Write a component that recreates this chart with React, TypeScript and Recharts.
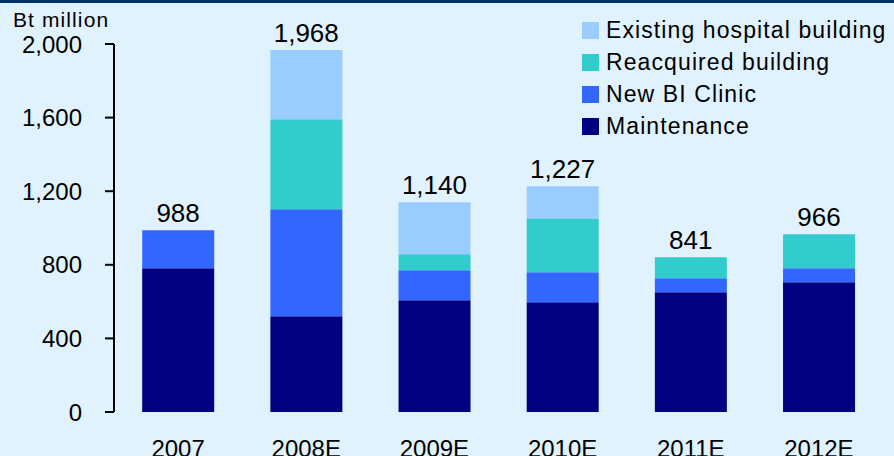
import React from 'react';
import { ComposedChart, Bar, Line, XAxis, YAxis, Legend, LabelList } from 'recharts';

const categories = ['2007', '2008E', '2009E', '2010E', '2011E', '2012E'];
const maintenance = [781, 520, 607, 596, 651, 705];
const newBIClinic = [207, 582, 163, 163, 76, 76];
const reacquired = [0, 489, 87, 293, 114, 185];
const existing = [0, 377, 283, 175, 0, 0];
const totals = [988, 1968, 1140, 1227, 841, 966];
const yTicks = [0, 400, 800, 1200, 1600, 2000];

const seriesNames = ['Maintenance', 'New BI Clinic', 'Reacquired building', 'Existing hospital building'];
const seriesColors = ['#000080', '#3366FF', '#33CCCC', '#99CCFF'];

const data = categories.map((c, i) => ({
  cat: c,
  idx: i,
  maintenance: maintenance[i],
  newBI: newBIClinic[i],
  reacquired: reacquired[i],
  existing: existing[i],
  total: totals[i],
}));

const FONT = '"Liberation Sans", Arial, sans-serif';

const renderLegend = () => {
  const items = seriesNames.map((n, i) => ({ n, c: seriesColors[i] })).reverse();
  return (
    <div style={{ fontFamily: FONT }}>
      {items.map((it) => (
        <div key={it.n} style={{ display: 'flex', alignItems: 'center', height: 32 }}>
          <div style={{ width: 17, height: 17, background: it.c, marginRight: 7 }} />
          <span style={{ fontSize: 23, letterSpacing: 1.1, color: '#000', lineHeight: '32px' }}>{it.n}</span>
        </div>
      ))}
    </div>
  );
};

export default function App() {
  return (
    <div style={{ position: 'absolute', left: 0, top: 0, width: 894, height: 456, background: '#E0F2FE', overflow: 'hidden', fontFamily: FONT }}>
      <div style={{ position: 'absolute', left: 0, top: 0, width: 894, height: 3, background: '#003366' }} />
      <div style={{ position: 'absolute', left: 13, top: 6, fontSize: 21, letterSpacing: 1.1, color: '#000', lineHeight: '28px' }}>Bt million</div>
      <ComposedChart
        width={894}
        height={456}
        data={data}
        margin={{ top: 44, right: 11, left: 0, bottom: 0 }}
        barCategoryGap="22%"
        style={{ fontFamily: FONT }}
      >
        <XAxis
          xAxisId="edges"
          type="number"
          dataKey="idx"
          domain={[0, 6]}
          ticks={[0, 1, 2, 3, 4, 5, 6]}
          allowDataOverflow
          height={0}
          tick={false}
          tickSize={8}
          axisLine={{ stroke: '#000', strokeWidth: 2 }}
          tickLine={{ stroke: '#000', strokeWidth: 2 }}
        />
        <XAxis
          xAxisId="cat"
          dataKey="cat"
          height={44}
          axisLine={false}
          tickLine={false}
          tickSize={0}
          tickMargin={28}
          interval={0}
          tick={{ fill: '#000', fontSize: 24 }}
        />
        <YAxis
          domain={[0, 2000]}
          ticks={yTicks}
          width={114}
          tickSize={9}
          tickMargin={23}
          axisLine={{ stroke: '#000', strokeWidth: 2 }}
          tickLine={{ stroke: '#000', strokeWidth: 2 }}
          tick={{ fill: '#000', fontSize: 24 }}
          tickFormatter={(v: number) => v.toLocaleString('en-US')}
        />
        <Legend
          layout="vertical"
          align="center"
          verticalAlign="middle"
          content={renderLegend}
          wrapperStyle={{ top: 14, left: 582, width: 312 }}
        />
        <Bar xAxisId="cat" dataKey="maintenance" stackId="a" fill={seriesColors[0]} isAnimationActive={false} name={seriesNames[0]} />
        <Bar xAxisId="cat" dataKey="newBI" stackId="a" fill={seriesColors[1]} isAnimationActive={false} name={seriesNames[1]} />
        <Bar xAxisId="cat" dataKey="reacquired" stackId="a" fill={seriesColors[2]} isAnimationActive={false} name={seriesNames[2]} />
        <Bar xAxisId="cat" dataKey="existing" stackId="a" fill={seriesColors[3]} isAnimationActive={false} name={seriesNames[3]} />
        <Line
          xAxisId="cat"
          dataKey="total"
          stroke="none"
          dot={false}
          activeDot={false}
          legendType="none"
          isAnimationActive={false}
        >
          <LabelList
            dataKey="total"
            position="top"
            offset={8}
            fill="#000"
            fontSize={26}
            formatter={(v: number) => v.toLocaleString('en-US')}
          />
        </Line>
      </ComposedChart>
    </div>
  );
}
